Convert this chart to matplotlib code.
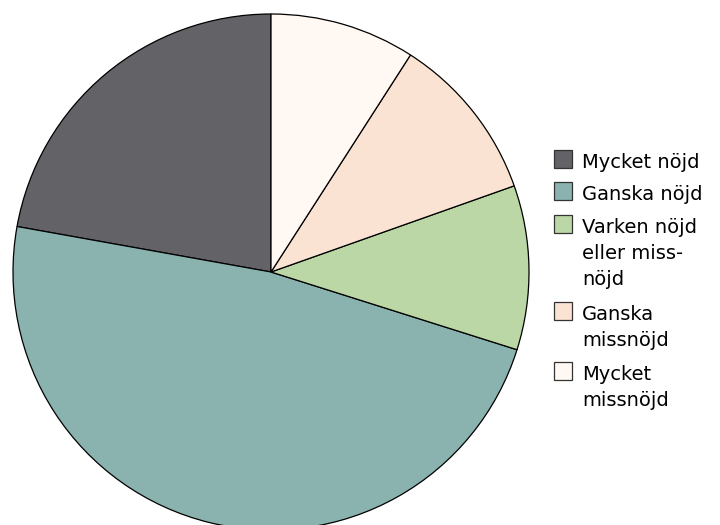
import matplotlib.pyplot as plt
from matplotlib.patches import Rectangle

labels = ['Mycket nöjd', 'Ganska nöjd', 'Varken nöjd\neller miss-\nnöjd',
          'Ganska\nmissnöjd', 'Mycket\nmissnöjd']
values = [22.2, 48.0, 10.3, 10.5, 9.1]
colors = ['#636266', '#8ab3b0', '#bcd7a6', '#fae3d2', '#fff8f3']

W, H = 720, 525
fig = plt.figure(figsize=(W / 100, H / 100), dpi=100)
ax = fig.add_axes([0, 0, 1, 1])
ax.pie(values, colors=colors, startangle=90, counterclock=True,
       center=(271, 253), radius=258,
       wedgeprops=dict(edgecolor='black', linewidth=0.9))
ax.set_xlim(0, W)
ax.set_ylim(0, H)
ax.set_aspect('equal')
ax.axis('off')

# legend drawn by hand so the box sits next to the first line
tops = [150, 182, 215, 302, 362]
for lab, c, top in zip(labels, colors, tops):
    ax.add_patch(Rectangle((554, H - top - 18), 18, 18, facecolor=c,
                           edgecolor='#333333', linewidth=0.9))
    for i, line in enumerate(lab.split('\n')):
        ax.text(582, H - top - 18 - i * 26, line, fontsize=14,
                va='baseline', ha='left', color='black')

fig.savefig('out.png', dpi=100)
